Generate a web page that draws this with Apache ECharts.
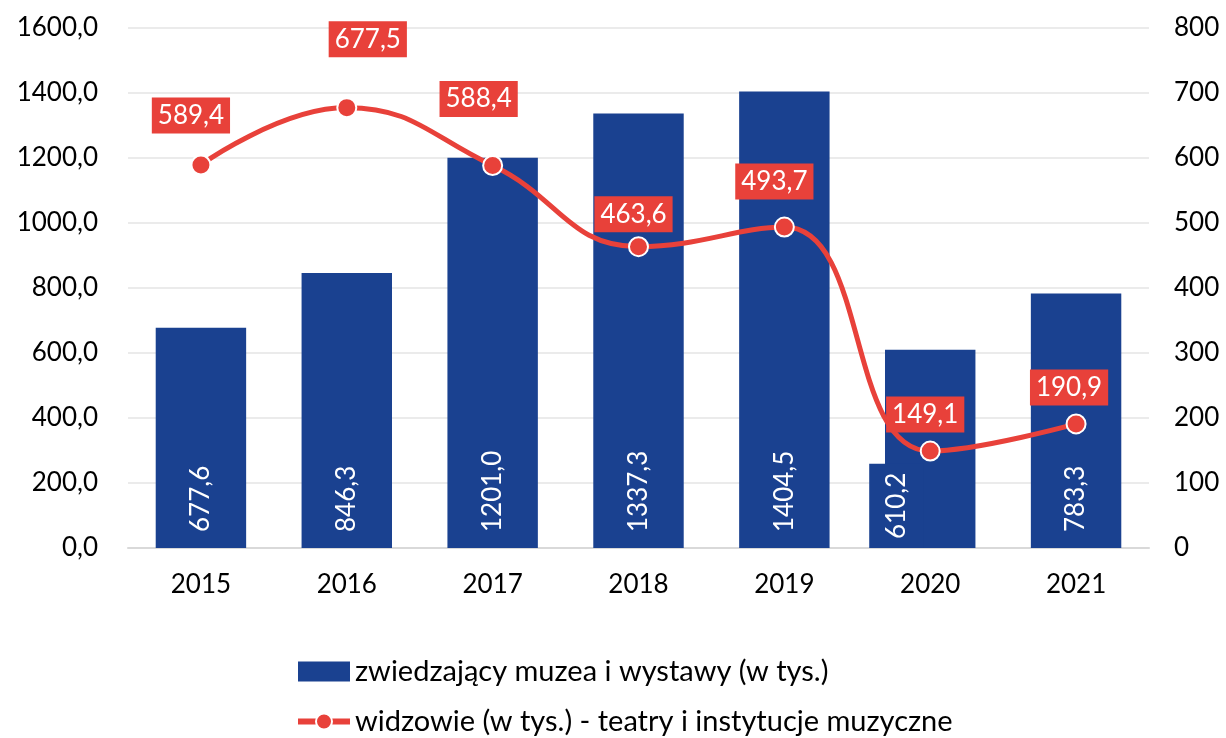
<!DOCTYPE html>
<html>
<head>
<meta charset="utf-8">
<script src="https://cdn.jsdelivr.net/npm/echarts@6/dist/echarts.min.js"></script>
<style>
  html, body { margin: 0; padding: 0; background: #fff; }
  #chart { width: 1226px; height: 738px; }
</style>
</head>
<body>
<div id="chart"></div>
<script>
const years = ['2015', '2016', '2017', '2018', '2019', '2020', '2021'];
const museumVisitors = [677.6, 846.3, 1201.0, 1337.3, 1404.5, 610.2, 783.3];
const theatreAudience = [589.4, 677.5, 588.4, 463.6, 493.7, 149.1, 190.9];
const leftTicks = { min: 0, max: 1600, interval: 200 };
const rightTicks = { min: 0, max: 800, interval: 100 };

const FONT = 'Lato, "Open Sans", sans-serif';
const FS = 26;
const BLUE = '#1a4190';
const RED = '#e8413a';

// przesunięcia etykiet linii (jak w oryginale)
const lineLabelOffsets = [[-10, -21], [21, -40], [-14, -38], [-5, -4], [-10, -17], [-5, -8], [-7, -8]];

const fmt = v => v.toFixed(1).replace('.', ',');

const chart = echarts.init(document.getElementById('chart'));

chart.setOption({
    animation: false,
    textStyle: { fontFamily: FONT },
    grid: { left: 128, right: 77, top: 28, bottom: 190 },
    legend: {
        orient: 'vertical',
        left: 290,
        top: 652,
        height: 120,
        itemWidth: 52,
        itemHeight: 20,
        itemGap: 21,
        textStyle: { fontFamily: FONT, fontSize: 29, color: '#000' },
        data: [
            { name: 'zwiedzający muzea i wystawy (w tys.)', icon: 'rect' },
            { name: 'widzowie (w tys.) - teatry i instytucje muzyczne', lineStyle: { width: 6 } }
        ]
    },
    xAxis: {
        type: 'category',
        data: years,
        axisTick: { show: false },
        axisLine: { lineStyle: { color: '#d9d9d9', width: 2 } },
        axisLabel: { fontSize: FS, color: '#000', margin: 24, fontFamily: FONT }
    },
    yAxis: [
        {
            type: 'value',
            ...leftTicks,
            axisLabel: { fontSize: FS, color: '#000', margin: 30, fontFamily: FONT, formatter: fmt },
            splitLine: { lineStyle: { color: '#ebebeb', width: 2 } },
            axisLine: { show: false },
            axisTick: { show: false }
        },
        {
            type: 'value',
            ...rightTicks,
            axisLabel: { fontSize: FS, color: '#000', margin: 25, fontFamily: FONT },
            splitLine: { show: false },
            axisLine: { show: false },
            axisTick: { show: false }
        }
    ],
    series: [
        {
            name: 'zwiedzający muzea i wystawy (w tys.)',
            type: 'bar',
            yAxisIndex: 0,
            barWidth: '62%',
            itemStyle: { color: BLUE },
            label: {
                show: true,
                position: 'insideBottom',
                rotate: 90,
                distance: 16,
                align: 'left',
                verticalAlign: 'middle',
                color: '#fff',
                fontSize: FS,
                fontFamily: FONT,
                formatter: p => fmt(p.value)
            },
            data: museumVisitors.map((v, i) => i === 5 ? {
                value: v,
                label: {
                    backgroundColor: BLUE,
                    offset: [0, -34],
                    padding: [12, 9, 16, 9],
                    distance: 0
                }
            } : v)
        },
        {
            name: 'widzowie (w tys.) - teatry i instytucje muzyczne',
            type: 'line',
            yAxisIndex: 1,
            smooth: 0.45,
            symbol: 'circle',
            symbolSize: 19,
            lineStyle: { color: RED, width: 5 },
            itemStyle: { color: RED, borderColor: '#fff', borderWidth: 2 },
            label: {
                show: true,
                position: 'top',
                distance: 0,
                backgroundColor: RED,
                color: '#fff',
                fontSize: FS,
                fontFamily: FONT,
                padding: [5, 6, 5, 6],
                formatter: p => fmt(p.value)
            },
            data: theatreAudience.map((v, i) => ({ value: v, label: { offset: lineLabelOffsets[i] } }))
        }
    ]
});
</script>
</body>
</html>
